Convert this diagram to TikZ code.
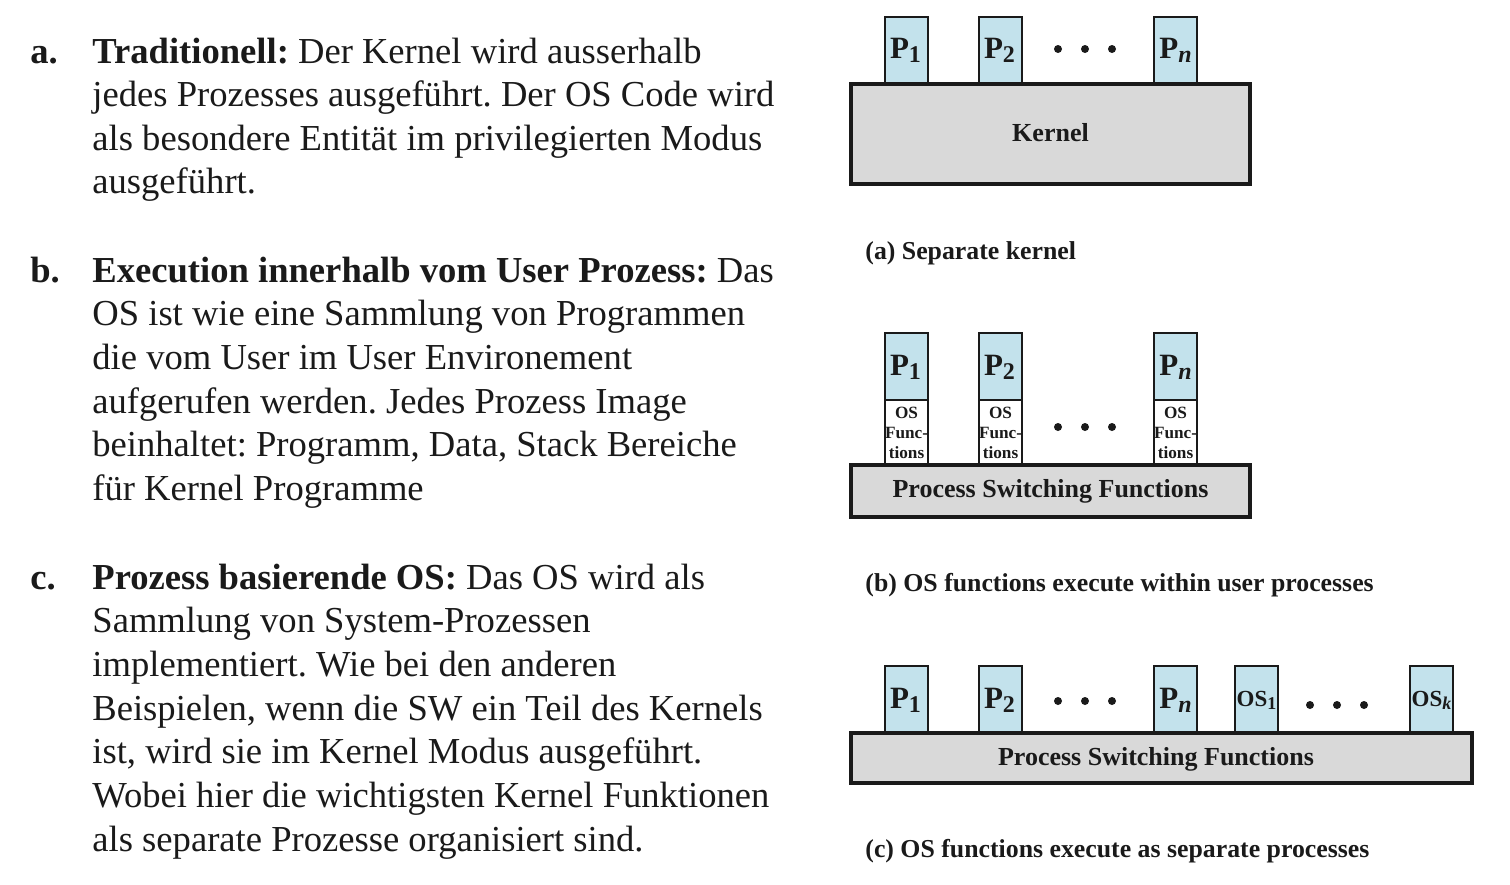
\documentclass[tikz,border=0pt]{standalone}
\usepackage{fontspec}
\setmainfont{Liberation Serif}
\frenchspacing
\definecolor{pblue}{HTML}{C3E2EC}
\definecolor{kgray}{HTML}{D9D9D9}
\definecolor{ink}{HTML}{1A1A1A}
\newcommand{\mysub}[1]{\raisebox{-0.3ex}{\fontsize{12}{12}\selectfont #1}}
\newcommand{\ossub}[1]{\raisebox{-0.3ex}{\fontsize{9}{9}\selectfont #1}}
\begin{document}
\begin{tikzpicture}[x=0.5pt,y=-0.5pt,
  body/.style={anchor=base west,inner sep=0pt,font=\fontsize{18.3}{22}\selectfont,text=ink},
  proc/.style={draw=ink,line width=0.7pt,fill=pblue},
  osf/.style={draw=ink,line width=0.7pt,fill=white},
  base/.style={draw=ink,line width=1.6pt,fill=kgray},
  plab/.style={font=\bfseries\fontsize{15.5}{15.5}\selectfont,text=ink,inner sep=0pt},
  blab/.style={font=\bfseries\fontsize{13}{13}\selectfont,text=ink,inner sep=0pt},
  oslab/.style={font=\bfseries\fontsize{11.5}{11.5}\selectfont,text=ink,inner sep=0pt},
  caption/.style={anchor=base west,inner sep=0pt,font=\bfseries\fontsize{12.9}{14}\selectfont,text=ink},
  dot/.style={circle,fill=ink,inner sep=0pt,minimum size=4pt},
  small/.style={font=\bfseries\fontsize{8.6}{10}\selectfont,text=ink,align=center,inner sep=0pt}]
\useasboundingbox (0,0) rectangle (1510,884);
% ---- text
\node[body] (la) at (30,63) {\textbf{a.}};
\node[body] (a1) at (92,63) {\textbf{Traditionell:} Der Kernel wird ausserhalb};
\node[body] (a2) at (92,106.5) {jedes Prozesses ausgeführt. Der OS Code wird};
\node[body] (a3) at (92,150) {als besondere Entität im privilegierten Modus};
\node[body] (a4) at (92,193.5) {ausgeführt.};
\node[body] (lb) at (30,282) {\textbf{b.}};
\node[body] (b1) at (92,282) {\textbf{Execution innerhalb vom User Prozess:} Das};
\node[body] (b2) at (92,325.7) {OS ist wie eine Sammlung von Programmen};
\node[body] (b3) at (92,369.4) {die vom User im User Environement};
\node[body] (b4) at (92,413.1) {aufgerufen werden. Jedes Prozess Image};
\node[body] (b5) at (92,456.8) {beinhaltet: Programm, Data, Stack Bereiche};
\node[body] (b6) at (92,500.5) {für Kernel Programme};
\node[body] (lc) at (30,589) {\textbf{c.}};
\node[body] (c1) at (92,589) {\textbf{Prozess basierende OS:} Das OS wird als};
\node[body] (c2) at (92,632.7) {Sammlung von System-Prozessen};
\node[body] (c3) at (92,676.4) {implementiert. Wie bei den anderen};
\node[body] (c4) at (92,720.1) {Beispielen, wenn die SW ein Teil des Kernels};
\node[body] (c5) at (92,763.8) {ist, wird sie im Kernel Modus ausgeführt.};
\node[body] (c6) at (92,807.5) {Wobei hier die wichtigsten Kernel Funktionen};
\node[body] (c7) at (92,851.2) {als separate Prozesse organisiert sind.};
% ---- (a)
\draw[proc] (885,17) rectangle (928,84);
\draw[proc] (979,17) rectangle (1022,84);
\draw[proc] (1154,17) rectangle (1197,84);
\draw[base] (851,84) rectangle (1250,184);
\node[plab] (ap1) at (905.5,50) {P\mysub{1}};
\node[plab] (ap2) at (999.5,50) {P\mysub{2}};
\node[plab] (apn) at (1175.5,50) {P\mysub{\textit{n}}};
\node[dot] (ad1) at (1058,49) {};
\node[dot] (ad2) at (1085,49) {};
\node[dot] (ad3) at (1112,49) {};
\node[blab] (kern) at (1050.5,133) {Kernel};
\node[caption] (capa) at (865,259) {(a) Separate kernel};
% ---- (b)
\foreach \x/\n in {885/1,979/2,1154/3}{
  \draw[proc] (\x,333) rectangle (\x+43,400);
  \draw[osf] (\x,400) rectangle (\x+43,465);
  \node[small] (osf\n) at (\x+21.5,433) {OS\\Func-\\tions};
}
\draw[base] (851,465) rectangle (1250,517);
\node[plab] (bp1) at (905.5,367) {P\mysub{1}};
\node[plab] (bp2) at (999.5,367) {P\mysub{2}};
\node[plab] (bpn) at (1175.5,367) {P\mysub{\textit{n}}};
\node[dot] (bd1) at (1058,427) {};
\node[dot] (bd2) at (1085,427) {};
\node[dot] (bd3) at (1112,427) {};
\node[blab] (psf1) at (1050.5,491) {Process Switching Functions};
\node[caption] (capb) at (865,591) {(b) OS functions execute within user processes};
% ---- (c)
\foreach \x in {885,979,1154,1235,1410}{
  \draw[proc] (\x,666) rectangle (\x+43,733);
}
\draw[base] (851,733) rectangle (1472,783);
\node[plab] (cp1) at (905.5,700) {P\mysub{1}};
\node[plab] (cp2) at (999.5,700) {P\mysub{2}};
\node[plab] (cpn) at (1175.5,700) {P\mysub{\textit{n}}};
\node[oslab] (cos1) at (1256.5,700) {OS\ossub{1}};
\node[oslab] (cosk) at (1431.5,700) {OS\ossub{\textit{k}}};
\node[dot] (cd1) at (1058,701) {};
\node[dot] (cd2) at (1085,701) {};
\node[dot] (cd3) at (1112,701) {};
\node[dot] (cd4) at (1310,705) {};
\node[dot] (cd5) at (1337,705) {};
\node[dot] (cd6) at (1364,705) {};
\node[blab] (psf2) at (1156,759) {Process Switching Functions};
\node[caption] (capc) at (865,857) {(c) OS functions execute as separate processes};
\end{tikzpicture}
\end{document}
